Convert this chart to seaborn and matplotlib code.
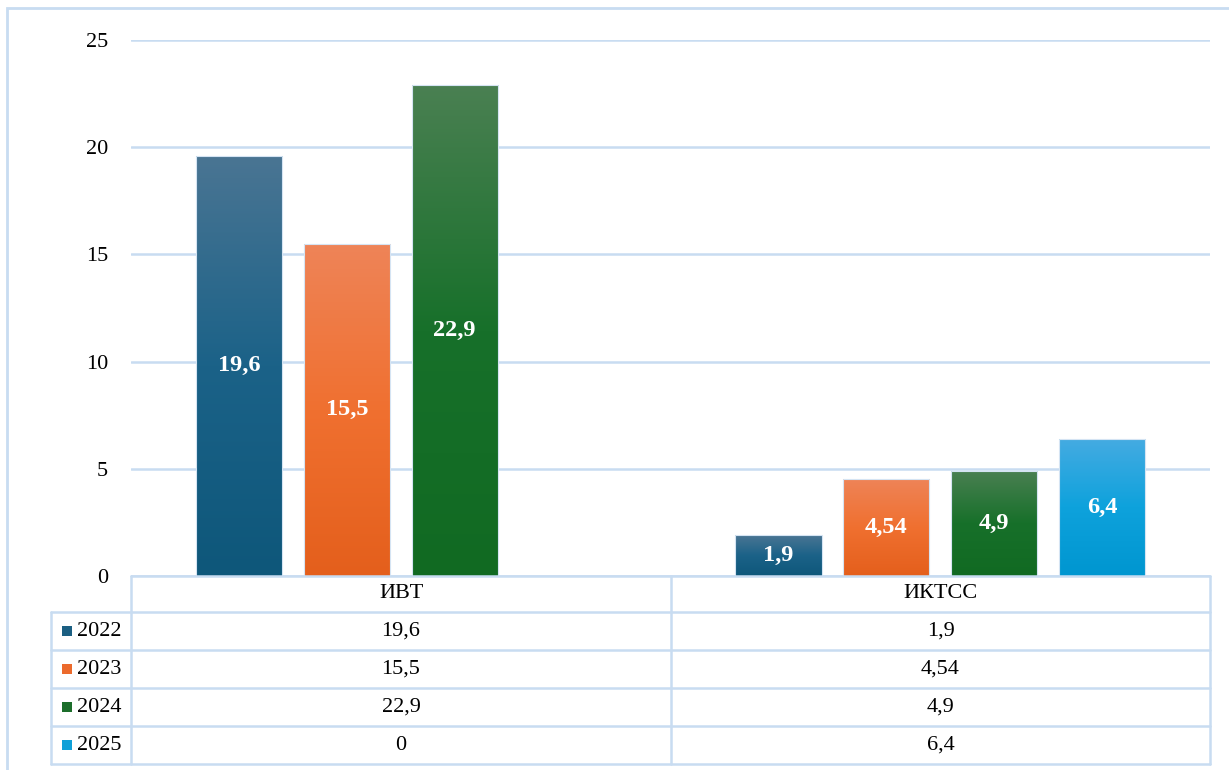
import numpy as np
import pandas as pd
import matplotlib
matplotlib.use("Agg")
import matplotlib.pyplot as plt
from matplotlib.colors import LinearSegmentedColormap
from matplotlib.patches import Rectangle
from matplotlib.lines import Line2D
import seaborn as sns

# ----------------------------------------------------------------
# Data
# ----------------------------------------------------------------
categories = ["ИВТ", "ИКТСС"]
years = ["2022", "2023", "2024", "2025"]
v2022 = [19.6, 1.9]
v2023 = [15.5, 4.54]
v2024 = [22.9, 4.9]
v2025 = [0, 6.4]
series = [v2022, v2023, v2024, v2025]

# gradient colours of each year (top -> middle -> bottom) and a flat colour for the legend keys
top_colors = ["#4A7593", "#EE8458", "#4A8052", "#45ABE2"]
mid_colors = ["#1B6288", "#F07030", "#17702A", "#0EA2DC"]
bottom_colors = ["#0E577A", "#E45F1C", "#116A22", "#0096D0"]
base_colors = ["#1B5F82", "#EC6A2C", "#1C6E2B", "#0FA0D8"]

line_color = "#C8DCF1"


def fmt(v):
    return f"{v:g}".replace(".", ",")


rows = []
for year, vals in zip(years, series):
    for cat, v in zip(categories, vals):
        rows.append({"cat": cat, "year": year, "value": v})
df = pd.DataFrame(rows)

sns.set_theme(style="white")
plt.rcParams["font.family"] = ["Liberation Serif", "DejaVu Serif"]

W, H = 1229, 770
fig = plt.figure(figsize=(W / 100, H / 100), dpi=100)


def fx(px):
    return px / W


def fy(py):
    return 1 - py / H


# plot area in pixels
ax_left, ax_right, ax_top, ax_bot = 131, 1210, 40, 576
ax = fig.add_axes([fx(ax_left), fy(ax_bot), fx(ax_right - ax_left), (ax_bot - ax_top) / H])

sns.barplot(data=df, x="cat", y="value", hue="year", order=categories,
            hue_order=years, palette=base_colors, width=0.8, gap=0.2,
            errorbar=None, legend=False, ax=ax,
            edgecolor="#D5E4F3", linewidth=0.8)

# gradient fill per bar + value labels
for i, container in enumerate(ax.containers):
    cmap = LinearSegmentedColormap.from_list(
        f"g{i}", [(0, top_colors[i]), (0.5, mid_colors[i]), (1, bottom_colors[i])])
    grad = np.linspace(0, 1, 256).reshape(-1, 1)
    for bar in container:
        h = bar.get_height()
        if h <= 0:
            continue
        x0, w = bar.get_x(), bar.get_width()
        im = ax.imshow(grad, extent=(x0, x0 + w, 0, h), origin="upper",
                       aspect="auto", cmap=cmap, zorder=3)
        im.set_clip_path(bar)
        bar.set_facecolor("none")
        bar.set_zorder(4)
    vals = series[i]
    ax.bar_label(container, labels=[fmt(v) if v else "" for v in vals],
                 label_type="center", color="white", fontweight="bold",
                 fontsize=17.5, zorder=5)

ax.set_xlim(-0.5, 1.5)
ax.set_ylim(0, 25)
ax.set_yticks([0, 5, 10, 15, 20, 25])
ax.set_xticks([])
ax.set_xlabel("")
ax.set_ylabel("")
ax.set_axisbelow(True)
ax.yaxis.grid(True, color=line_color, linewidth=1.8)
ax.tick_params(axis="y", length=0, pad=16.5, labelsize=16, labelcolor="black")
for s in ax.spines.values():
    s.set_visible(False)

# ----------------------------------------------------------------
# Data table below the plot
# ----------------------------------------------------------------
row_lines = [612, 650, 688, 726, 764]
col_mid = 671
leg_left = 51


def hline(y, x0, x1):
    fig.add_artist(Line2D([fx(x0), fx(x1)], [fy(y), fy(y)], transform=fig.transFigure,
                          color=line_color, linewidth=1.8))


def vline(x, y0, y1):
    fig.add_artist(Line2D([fx(x), fx(x)], [fy(y0), fy(y1)], transform=fig.transFigure,
                          color=line_color, linewidth=1.8))


hline(ax_bot, ax_left, ax_right)
for y in row_lines:
    hline(y, leg_left, ax_right)
for x in [ax_left, col_mid, ax_right]:
    vline(x, ax_bot, row_lines[-1])
vline(leg_left, row_lines[0], row_lines[-1])

col_centers = [(ax_left + col_mid) / 2, (col_mid + ax_right) / 2]
for cx, cat in zip(col_centers, categories):
    fig.text(fx(cx), fy((ax_bot + row_lines[0]) / 2), cat, ha="center", va="center",
             fontsize=16, color="black")

for r, (year, vals) in enumerate(zip(years, series)):
    cy = (row_lines[r] + row_lines[r + 1]) / 2
    fig.add_artist(Rectangle((fx(62), fy(cy + 5)), fx(10), 10 / H,
                             transform=fig.transFigure, facecolor=base_colors[r],
                             edgecolor="none"))
    fig.text(fx(77), fy(cy), year, ha="left", va="center", fontsize=16, color="black")
    for cx, v in zip(col_centers, vals):
        fig.text(fx(cx), fy(cy), fmt(v), ha="center", va="center", fontsize=16,
                 color="black")

# outer chart frame
fig.add_artist(Rectangle((fx(7), fy(790)), fx(1240), 782 / H, transform=fig.transFigure,
                         fill=False, edgecolor=line_color, linewidth=2))

fig.savefig("out.png", dpi=100)
